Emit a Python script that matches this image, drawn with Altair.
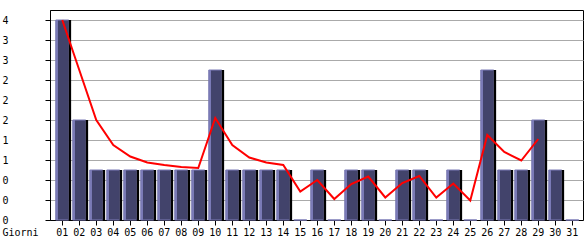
import altair as alt
import pandas as pd

days = ["01", "02", "03", "04", "05", "06", "07", "08", "09", "10",
        "11", "12", "13", "14", "15", "16", "17", "18", "19", "20",
        "21", "22", "23", "24", "25", "26", "27", "28", "29", "30", "31"]
visits = [4, 2, 1, 1, 1, 1, 1, 1, 1, 3,
          1, 1, 1, 1, 0, 1, 0, 1, 1, 0,
          1, 1, 0, 1, 0, 3, 1, 1, 2, 1, 0]
trend = [4.0, 3.0, 2.0, 1.5, 1.27, 1.15, 1.1, 1.06, 1.04, 2.04,
         1.5, 1.25, 1.15, 1.1, 0.57, 0.8, 0.42, 0.72, 0.87, 0.45,
         0.74, 0.88, 0.45, 0.73, 0.39, 1.7, 1.36, 1.19, 1.62]
y_ticks = [0, 0.4, 0.8, 1.2, 1.6, 2.0, 2.4, 2.8, 3.2, 3.6, 4.0]

df = pd.DataFrame({
    "day": days,
    "visits": visits,
    "trend": trend + [None] * (len(days) - len(trend)),
})

FONT = "DejaVu Sans Mono"

x = alt.X(
    "day:N", sort=days,
    scale=alt.Scale(paddingInner=0, paddingOuter=0.176, align=0.63),
    axis=alt.Axis(
        title="Giorni", labelAngle=0, tickSize=5, labelPadding=2,
        titleX=-48, titleY=12, titleAlign="left", titleBaseline="middle",
        titleFontWeight="normal", titleFontSize=10, titleFont=FONT,
        labelFont=FONT, labelFontSize=10, labelColor="black", titleColor="black",
        domainColor="black", tickColor="black", grid=False,
    ),
)

y_axis = alt.Axis(
    values=y_ticks, labelExpr="'' + floor(datum.value + 1e-9)", title=None,
    grid=True, gridColor="#aaaaaa", labelAlign="left", labelPadding=43,
    tickSize=5, labelFont=FONT, labelFontSize=10, labelColor="black",
    domainColor="black", tickColor="black", labelBaseline="middle",
)
y_scale = alt.Scale(domain=[0, 4.2], nice=False, zero=True)

base = alt.Chart(df).encode(x=x)

body = base.mark_bar(width=13, color="#42436b", stroke="#7a7ab6", strokeWidth=1).encode(
    y=alt.Y("visits:Q", scale=y_scale, axis=y_axis)
)
strip = base.mark_bar(width=2, xOffset=-5.3, color="#7a7ab6").encode(
    y=alt.Y("visits:Q", scale=y_scale, axis=y_axis)
)
shadow = base.mark_bar(width=2.5, xOffset=7.6, color="black").encode(
    y=alt.Y("visits:Q", scale=y_scale, axis=y_axis)
)
line = base.mark_line(color="#ff0000", strokeWidth=2).encode(
    y=alt.Y("trend:Q", scale=y_scale, axis=y_axis)
)

chart = alt.layer(body, strip, shadow, line).properties(
    width=533, height=210,
    padding={"left": 2, "top": 10, "right": 2, "bottom": 0},
    background="white",
).configure_view(stroke="black", strokeWidth=1)

chart.save("out.html", embed_options={"renderer": "svg", "actions": False})
